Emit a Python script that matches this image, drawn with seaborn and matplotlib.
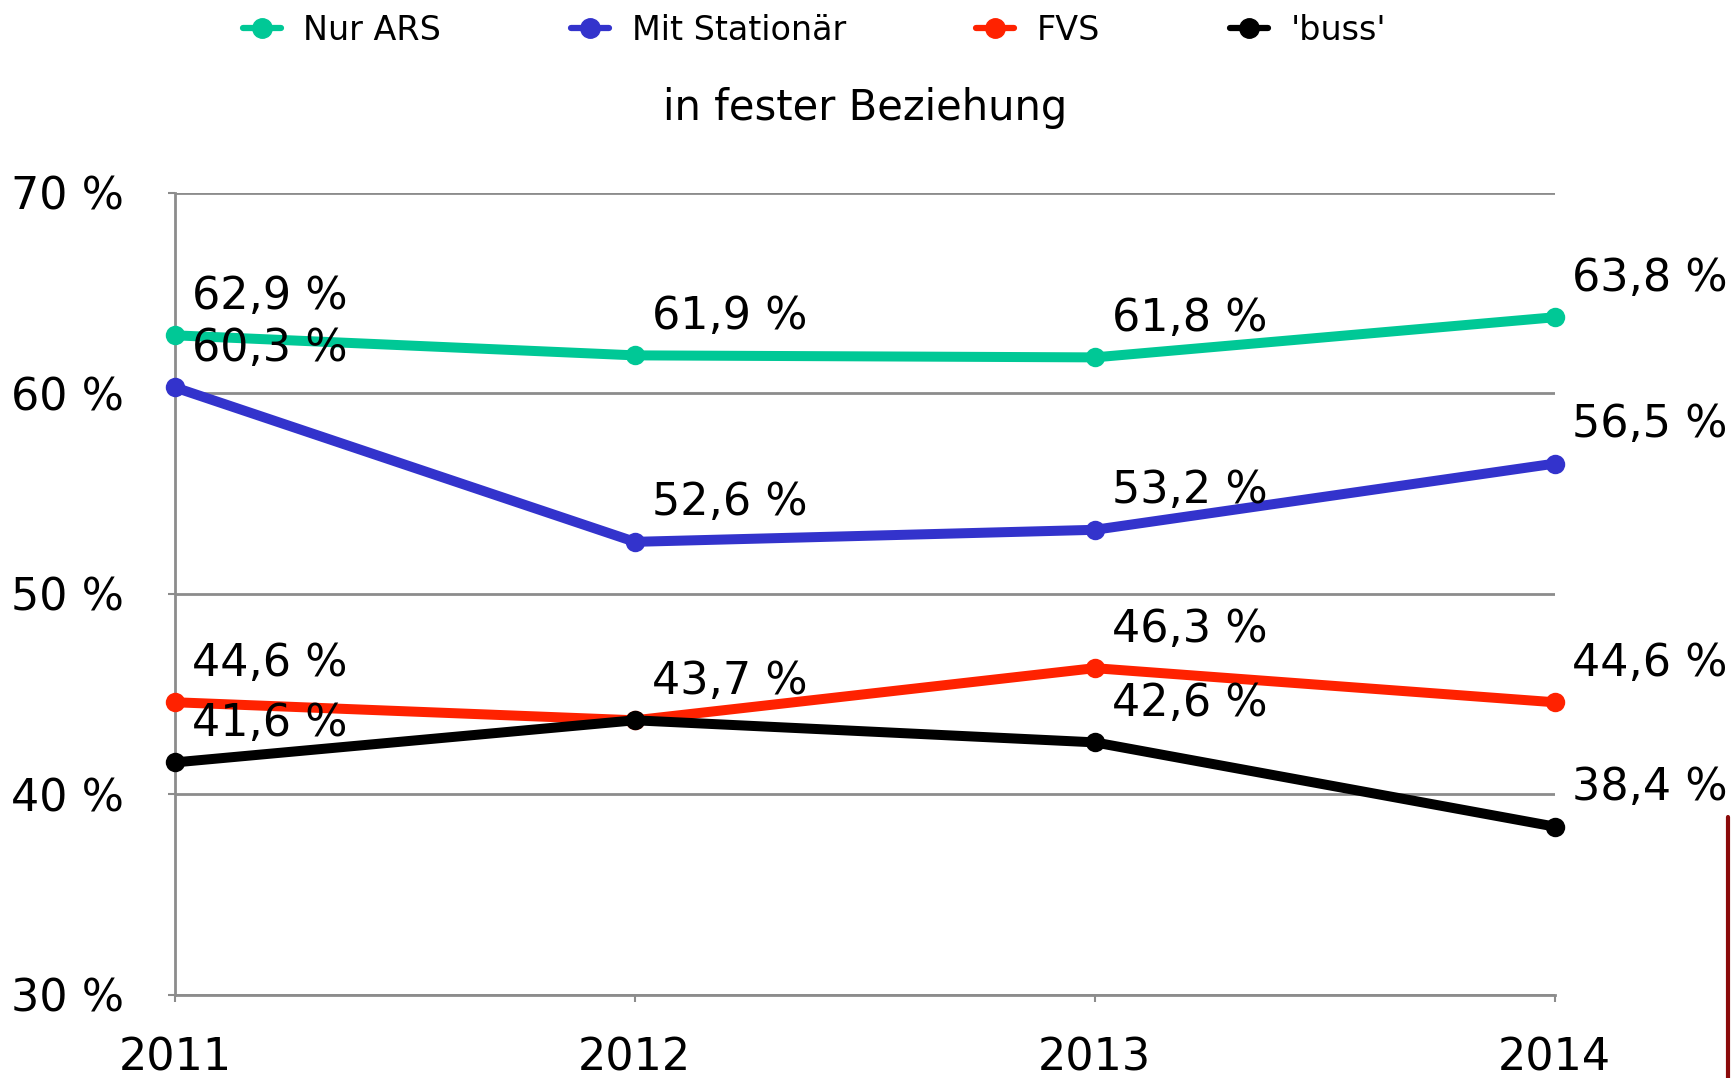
import pandas as pd
import seaborn as sns
import matplotlib.pyplot as plt
from matplotlib.lines import Line2D

years = [2011, 2012, 2013, 2014]
nur_ars = [62.9, 61.9, 61.8, 63.8]
mit_stationaer = [60.3, 52.6, 53.2, 56.5]
fvs = [44.6, 43.7, 46.3, 44.6]
buss = [41.6, 43.7, 42.6, 38.4]
series_names = ['Nur ARS', 'Mit Stationär', 'FVS', "'buss'"]
colors = ['#00C896', '#3333CC', '#FF2200', '#000000']
y_ticks = [30, 40, 50, 60, 70]
title = 'in fester Beziehung'

df = pd.DataFrame({'year': years * 4,
                   'value': nur_ars + mit_stationaer + fvs + buss,
                   'series': [s for s in series_names for _ in years]})

sns.set_style('white')
plt.rcParams['font.family'] = ['DejaVu Sans']
plt.rcParams['text.color'] = 'black'
plt.rcParams['xtick.color'] = 'black'
plt.rcParams['ytick.color'] = 'black'

fig = plt.figure(figsize=(17.33, 10.78), dpi=100)
ax = fig.add_axes([0.101, 0.077, 0.796, 0.744])

sns.lineplot(data=df, x='year', y='value', hue='series', hue_order=series_names,
             palette=colors, marker='o', markersize=14, markeredgewidth=0,
             linewidth=7.2, ax=ax, legend=False, zorder=3)
for line in ax.lines:
    line.set_clip_on(False)

# value labels, skip duplicates that sit on the same spot
seen = set()
for name in series_names:
    sub = df[df['series'] == name]
    for x, v in zip(sub['year'], sub['value']):
        txt = f'{v:.1f} %'.replace('.', ',')
        if (x, txt) in seen:
            continue
        seen.add((x, txt))
        ax.annotate(txt, (x, v), xytext=(17, 39), textcoords='offset pixels',
                    ha='left', va='center', fontsize=32, zorder=5,
                    annotation_clip=False)

ax.set_xlim(years[0], years[-1])
ax.set_ylim(y_ticks[0], y_ticks[-1])
ax.set_xticks(years)
ax.set_xticklabels([str(y) for y in years])
ax.set_yticks(y_ticks)
ax.set_yticklabels([f'{t} %' for t in y_ticks])
ax.set_xlabel('')
ax.set_ylabel('')

ax.yaxis.grid(True, color='#8c8c8c', linewidth=2)
ax.xaxis.grid(False)
for s in ['top', 'right']:
    ax.spines[s].set_visible(False)
for s in ['left', 'bottom']:
    ax.spines[s].set_color('#8c8c8c')
    ax.spines[s].set_linewidth(2)

ax.tick_params(axis='y', length=5, width=1.5, color='#8c8c8c', labelcolor='black',
               pad=32, labelsize=32, left=True)
ax.tick_params(axis='x', length=5, width=1.5, color='#8c8c8c', labelcolor='black',
               pad=25, labelsize=32, bottom=True)

fig.text(865 / 1733, 1 - 108 / 1078, title, ha='center', va='center', fontsize=30)

handles = [Line2D([], [], color=c, marker='o', linewidth=4.5, markersize=14) for c in colors]
fig.legend(handles, series_names, loc='center', bbox_to_anchor=(0.470, 0.972), ncol=4,
           frameon=False, fontsize=24, handlelength=1.15, handletextpad=0.67,
           columnspacing=3.9)

fig.add_artist(Line2D([1728 / 1733] * 2, [0, 1 - 817 / 1078], color='#8B0A0A', linewidth=3))

fig.savefig('out.png', dpi=100)
